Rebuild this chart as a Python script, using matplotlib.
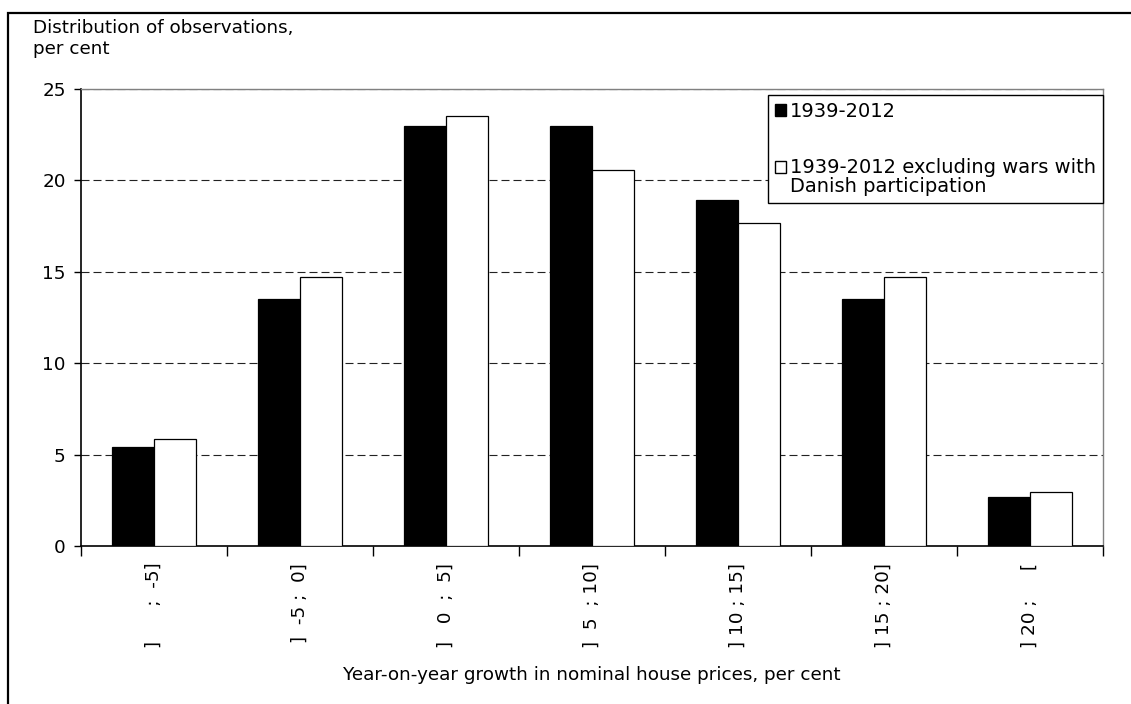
import matplotlib
matplotlib.use("Agg")
import matplotlib.pyplot as plt
from matplotlib.patches import Rectangle, Patch
from matplotlib.legend_handler import HandlerPatch
import numpy as np

plt.rcParams['font.family'] = ['DejaVu Sans']

# growth intervals (per cent), labels padded so the ";" lines up
labels = ['] ' + ' ' * 5 + ';  -5]',
          ']  -5 ;  0]',
          ']   0  ;  5]',
          ']  5  ; 10]',
          '] 10 ; 15]',
          '] 15 ; 20]',
          '] 20 ;     [']

share_all = [5.41, 13.51, 22.97, 22.97, 18.92, 13.51, 2.70]
share_ex_war = [5.88, 14.71, 23.53, 20.59, 17.65, 14.71, 2.94]

series_names = ['1939-2012',
                '1939-2012 excluding wars with\nDanish participation']

yticks = [0, 5, 10, 15, 20, 25]

fs = 13.2
fig = plt.figure(figsize=(11.31, 7.04), dpi=100)
ax = fig.add_axes([81 / 1131, 1 - 546 / 704, (1103 - 81) / 1131, (546 - 89) / 704])

x = np.arange(len(labels))
w = 1 / 3.5  # two series, 150% gap

ax.bar(x - w / 2, share_all, w, color='black', edgecolor='black', linewidth=0.9, zorder=3)
ax.bar(x + w / 2, share_ex_war, w, color='white', edgecolor='black', linewidth=0.9, zorder=3)

ax.set_xlim(-0.5, len(labels) - 0.5)
ax.set_ylim(0, 25)
ax.set_yticks(yticks)
ax.tick_params(axis='y', direction='out', length=5, width=1, pad=6, labelsize=fs)

# boundary ticks without labels, labels centred on each group
ax.set_xticks(np.arange(-0.5, len(labels), 1))
ax.set_xticklabels([])
ax.set_xticks(x, minor=True)
ax.set_xticklabels(labels, minor=True, rotation=90, fontsize=fs)
ax.tick_params(axis='x', which='major', direction='out', length=7, width=1)
ax.tick_params(axis='x', which='minor', length=0, pad=12)

for v in yticks[1:]:
    ax.axhline(v, color='#222222', lw=0.8, linestyle=(0, (7.2, 3.6)), zorder=1)

for s in ['left', 'bottom']:
    ax.spines[s].set_color('black')
    ax.spines[s].set_linewidth(1.2)
for s in ['top', 'right']:
    ax.spines[s].set_color('#808080')
    ax.spines[s].set_linewidth(1.0)

ax.set_xlabel('Year-on-year growth in nominal house prices, per cent', fontsize=fs, labelpad=13)

fig.text(33 / 1131, 1 - 19 / 704, 'Distribution of observations,\nper cent',
         fontsize=fs, ha='left', va='top', linespacing=1.2)


def upper_square(legend, orig_handle, xdescent, ydescent, width, height, fontsize):
    off = 0.55 * fontsize if '\n' in orig_handle.get_label() else 0
    return Rectangle((-xdescent, -ydescent + off), width, height)


handles = [Patch(facecolor='black', edgecolor='black', label=series_names[0]),
           Patch(facecolor='white', edgecolor='black', label=series_names[1])]
leg = fig.legend(handles=handles, loc='upper right',
                 bbox_to_anchor=(1103 / 1131, 1 - 95 / 704),
                 fontsize=14, frameon=True, fancybox=False, shadow=False,
                 edgecolor='black', framealpha=1, borderpad=0.35,
                 handlelength=0.6, handleheight=0.6, handletextpad=0.2,
                 labelspacing=1.9, borderaxespad=0,
                 handler_map={Patch: HandlerPatch(patch_func=upper_square)})
leg.get_frame().set_linewidth(1.0)
for t in leg.get_texts():
    t.set_linespacing(1.0)

# chart frame
fig.patches.append(Rectangle((8 / 1131, -0.1), 1.2, 1 - 13 / 704 + 0.1,
                             transform=fig.transFigure, fill=False,
                             edgecolor='black', lw=1.6))

fig.savefig('out.png', dpi=100)
